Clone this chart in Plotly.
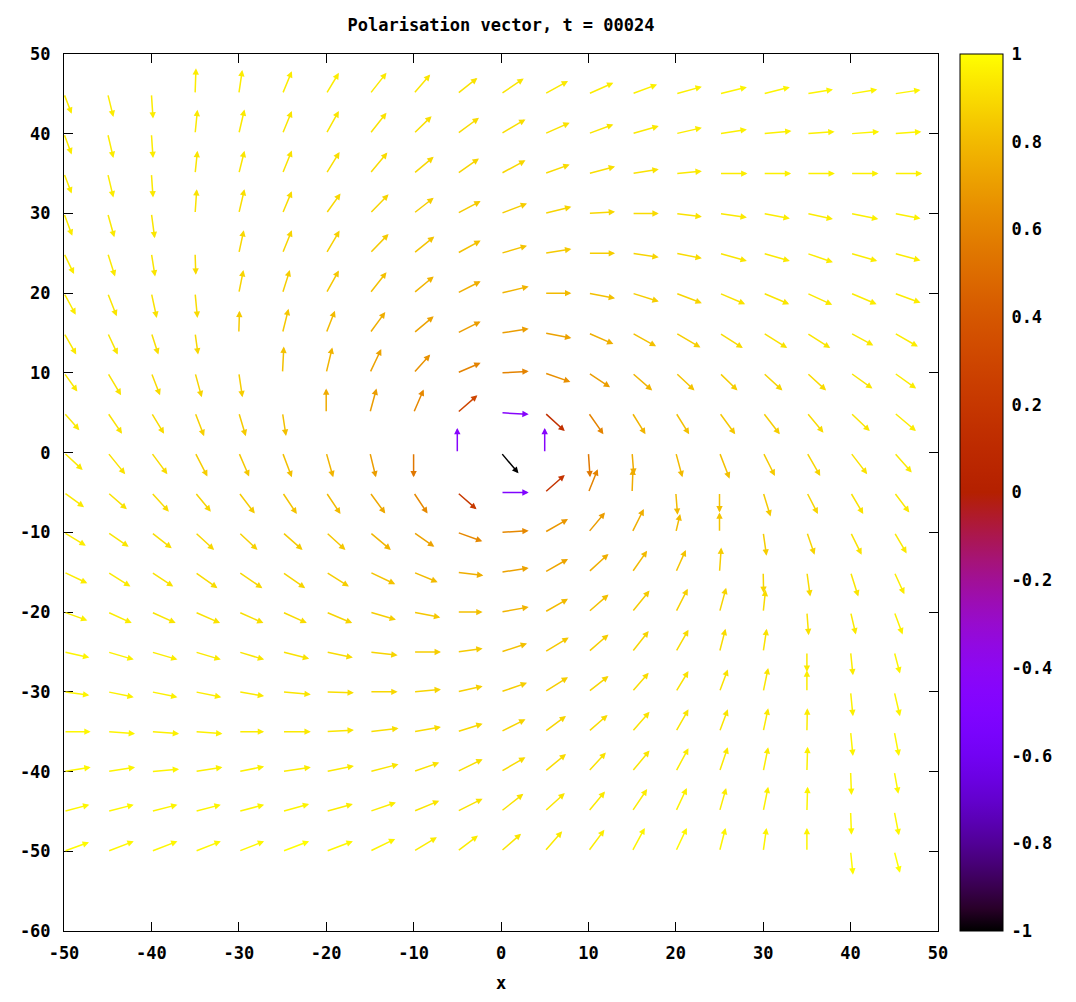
import math
import plotly.graph_objects as go

# grid (columns: x, rows: y from top to bottom)
X_VALUES = [-50, -45, -40, -35, -30, -25, -20, -15, -10, -5, 0, 5, 10, 15, 20, 25, 30, 35, 40, 45]
Y_VALUES = [45, 40, 35, 30, 25, 20, 15, 10, 5, 0, -5, -10, -15, -20, -25, -30, -35, -40, -45, -50]

# vector x-components (data units), one row per Y value
DX = [
    [0.88, 0.65, 0.19, 0.1, 0.4, 1.07, 1.45, 1.9, 1.9, 2.3, 2.6, 2.67, 2.86, 2.86, 2.98, 3.13, 3.05, 2.98, 3.05, 3.0],
    [0.88, 0.65, 0.19, 0.27, 0.65, 1.07, 1.45, 1.9, 2.06, 2.48, 2.8, 2.86, 2.86, 3.05, 2.98, 3.13, 3.24, 3.17, 3.28, 3.1],
    [0.88, 0.65, 0.19, 0.27, 0.65, 1.07, 1.53, 2.0, 2.3, 2.48, 2.8, 2.86, 3.05, 3.05, 2.98, 3.2, 3.2, 3.2, 3.2, 3.2],
    [0.95, 0.76, 0.38, 0.19, 0.65, 1.07, 1.64, 2.14, 2.3, 2.67, 2.98, 3.05, 3.05, 3.05, 2.98, 3.13, 3.05, 2.98, 3.17, 3.0],
    [1.15, 0.84, 0.42, 0.08, 0.57, 1.07, 1.53, 2.14, 2.37, 2.67, 2.98, 3.05, 3.05, 3.05, 2.98, 3.13, 3.05, 2.98, 3.05, 3.0],
    [1.34, 1.03, 0.61, 0.27, 0.53, 0.84, 1.45, 1.9, 2.3, 2.67, 3.17, 3.05, 3.05, 3.05, 2.98, 2.94, 2.98, 2.9, 2.98, 3.0],
    [1.4, 1.15, 0.8, 0.34, 0.08, 0.69, 1.0, 1.76, 2.3, 2.67, 3.17, 3.05, 2.86, 2.75, 2.82, 2.67, 2.75, 2.67, 2.6, 2.7],
    [1.53, 1.53, 0.99, 0.76, 0.42, 0.15, 0.7, 1.3, 1.9, 2.67, 3.17, 2.94, 2.48, 2.3, 2.14, 2.06, 2.2, 2.2, 2.5, 2.5],
    [1.76, 1.64, 1.45, 1.03, 0.8, 0.4, 0.0, 0.76, 1.15, 2.3, 3.17, 2.3, 1.72, 1.53, 1.53, 1.8, 1.9, 1.9, 2.2, 2.48],
    [2.14, 2.0, 1.83, 1.41, 1.18, 1.07, 0.8, 0.69, 0.0, 0.0, 2.0, 0.0, 0.19, 0.2, 0.76, 1.15, 1.34, 1.53, 1.9, 2.0],
    [2.3, 2.2, 2.0, 1.8, 1.83, 1.64, 1.64, 1.76, 1.6, 2.2, 3.17, 2.3, 1.07, 0.1, 0.2, 0.0, 0.84, 1.26, 1.45, 1.72],
    [2.5, 2.4, 2.33, 2.18, 2.14, 2.3, 2.2, 2.4, 2.37, 2.86, 3.17, 2.67, 1.9, 1.34, 0.5, 0.0, 0.38, 0.88, 1.26, 1.41],
    [2.67, 2.6, 2.5, 2.56, 2.7, 2.6, 2.6, 2.9, 2.75, 2.98, 3.17, 2.67, 2.3, 1.72, 1.15, 0.2, 0.05, 0.38, 0.88, 1.15],
    [2.67, 2.75, 2.78, 2.86, 2.82, 2.78, 2.98, 2.98, 3.05, 2.9, 3.17, 2.67, 2.3, 2.0, 1.37, 0.76, 0.27, 0.2, 0.6, 0.95],
    [2.9, 2.98, 2.98, 2.94, 2.9, 3.05, 3.05, 3.17, 3.13, 2.9, 2.98, 2.75, 2.3, 1.9, 1.45, 0.69, 0.4, 0.0, 0.27, 0.65],
    [2.9, 2.98, 2.98, 3.0, 2.9, 3.24, 3.17, 3.17, 3.13, 2.9, 2.98, 2.67, 2.3, 1.9, 1.45, 0.95, 0.57, 0.0, 0.27, 0.65],
    [3.05, 3.13, 3.17, 3.13, 2.9, 3.24, 3.17, 3.28, 3.13, 2.9, 2.8, 2.44, 2.2, 2.0, 1.45, 0.95, 0.57, 0.05, 0.27, 0.53],
    [3.05, 3.13, 3.17, 3.13, 2.9, 3.24, 3.17, 3.28, 2.94, 2.9, 2.8, 2.44, 2.0, 2.0, 1.45, 0.95, 0.57, 0.08, 0.1, 0.46],
    [2.9, 2.98, 2.98, 2.94, 2.9, 3.05, 3.05, 2.98, 2.94, 2.9, 2.56, 2.3, 1.9, 1.72, 1.26, 0.76, 0.57, 0.08, 0.1, 0.53],
    [2.86, 2.98, 2.98, 2.94, 2.9, 3.05, 3.05, 2.9, 2.67, 2.37, 2.3, 2.0, 1.83, 1.45, 1.26, 0.69, 0.38, 0.0, 0.27, 0.65],
]

# vector y-components (data units)
DY = [
    [-2.5, -2.9, -3.1, 3.2, 3.0, 2.85, 2.64, 2.64, 2.43, 2.0, 1.92, 1.6, 1.38, 1.17, 0.9, 0.84, 0.84, 0.54, 0.54, 0.5],
    [-2.6, -3.05, -3.05, 3.0, 3.05, 2.85, 2.85, 2.64, 2.2, 2.0, 1.8, 1.38, 1.17, 0.96, 0.75, 0.54, 0.33, 0.25, 0.25, 0.25],
    [-2.5, -3.0, -3.0, 2.85, 2.85, 2.9, 2.7, 2.64, 2.1, 1.9, 1.67, 1.13, 0.88, 0.54, 0.3, 0.0, 0.0, 0.0, 0.0, 0.0],
    [-2.8, -3.0, -3.1, 3.05, 3.05, 2.8, 2.5, 2.4, 1.97, 1.55, 1.25, 0.84, 0.2, 0.0, -0.42, -0.5, -0.63, -0.71, -0.71, -0.63],
    [-2.6, -2.9, -2.9, -2.7, 2.9, 2.9, 2.85, 2.43, 2.1, 1.6, 0.96, 0.54, 0.0, -0.5, -0.63, -0.96, -0.96, -1.13, -0.96, -0.9],
    [-2.7, -2.9, -3.1, -3.1, 2.9, 2.9, 2.85, 2.64, 2.1, 1.5, 0.84, 0.0, -0.63, -1.05, -1.25, -1.38, -1.38, -1.46, -1.38, -1.2],
    [-2.7, -2.7, -2.7, -2.7, 2.8, 3.05, 2.8, 2.64, 2.1, 1.46, 0.54, -0.63, -1.38, -1.67, -1.8, -1.88, -1.88, -1.88, -1.55, -1.7],
    [-2.34, -2.8, -2.8, -3.05, -3.05, 3.3, 3.2, 3.0, 2.3, 1.26, 0.2, -1.13, -1.8, -2.2, -2.2, -2.2, -2.2, -2.2, -1.97, -1.97],
    [-2.18, -2.64, -2.64, -2.93, -2.93, -2.9, 3.05, 3.05, 2.93, 2.2, -0.2, -2.3, -2.7, -2.7, -2.7, -2.7, -2.7, -2.5, -2.3, -2.3],
    [-2.18, -2.7, -2.7, -3.0, -3.0, -3.1, -3.1, -3.1, -3.1, 3.1, -2.6, 3.1, -3.1, -2.8, -3.1, -3.26, -2.93, -2.93, -2.7, -2.5],
    [-1.84, -2.1, -2.4, -2.4, -2.64, -2.7, -2.7, -2.64, -2.64, -2.1, 0.0, 2.2, 2.93, 3.0, -2.8, -2.5, -3.0, -2.7, -2.7, -2.5],
    [-1.67, -1.8, -2.0, -2.2, -2.2, -2.2, -2.2, -2.2, -1.8, -1.13, 0.2, 1.67, 2.5, 2.93, 2.3, 2.5, -2.93, -2.8, -2.8, -2.64],
    [-1.38, -1.8, -1.8, -2.0, -2.0, -2.0, -1.8, -1.5, -1.25, -0.42, 0.54, 1.67, 2.3, 2.7, 2.8, 3.1, -2.6, -3.05, -3.05, -2.76],
    [-1.05, -1.38, -1.38, -1.38, -1.38, -1.38, -1.38, -0.96, -0.67, 0.0, 0.63, 1.67, 2.2, 2.7, 2.93, 3.05, 2.8, -2.9, -2.8, -2.8],
    [-0.71, -0.96, -0.96, -0.96, -0.96, -0.84, -0.71, -0.42, 0.0, 0.42, 1.05, 1.8, 2.2, 2.64, 2.8, 2.9, 2.9, -2.5, -2.93, -2.7],
    [-0.42, -0.67, -0.67, -0.67, -0.54, -0.33, -0.13, 0.0, 0.3, 0.71, 1.13, 1.84, 1.97, 2.4, 2.6, 2.8, 3.0, 2.7, -3.05, -3.05],
    [0.0, -0.25, -0.25, -0.25, 0.0, 0.0, 0.2, 0.42, 0.58, 1.0, 1.55, 1.97, 2.1, 2.5, 2.8, 2.8, 2.93, 2.93, -3.05, -3.05],
    [0.54, 0.54, 0.3, 0.54, 0.63, 0.54, 0.71, 0.92, 1.13, 1.55, 1.8, 2.2, 2.4, 2.64, 2.93, 3.05, 3.05, 3.1, -2.93, -2.8],
    [0.84, 0.84, 0.84, 0.84, 0.84, 0.92, 0.92, 1.13, 1.34, 1.6, 2.2, 2.3, 2.5, 2.8, 2.93, 2.93, 3.1, 3.1, -2.93, -3.0],
    [1.13, 1.26, 1.26, 1.26, 1.26, 1.26, 1.26, 1.55, 1.76, 1.97, 2.2, 2.5, 2.7, 2.93, 2.93, 2.93, 2.93, 2.93, -2.93, -2.7],
]

# colour value of each vector (-1 .. 1)
C = [
    [0.95, 0.95, 0.95, 0.95, 0.95, 0.95, 0.95, 0.94, 0.93, 0.92, 0.93, 0.94, 0.95, 0.96, 0.96, 0.97, 0.97, 0.97, 0.97, 0.97],
    [0.95, 0.95, 0.95, 0.94, 0.94, 0.93, 0.93, 0.92, 0.91, 0.9, 0.91, 0.92, 0.93, 0.94, 0.95, 0.96, 0.96, 0.96, 0.97, 0.97],
    [0.95, 0.95, 0.94, 0.93, 0.93, 0.92, 0.91, 0.9, 0.89, 0.88, 0.89, 0.9, 0.91, 0.92, 0.94, 0.95, 0.96, 0.96, 0.96, 0.96],
    [0.95, 0.94, 0.93, 0.92, 0.91, 0.9, 0.89, 0.88, 0.86, 0.85, 0.86, 0.88, 0.89, 0.9, 0.92, 0.94, 0.95, 0.95, 0.96, 0.96],
    [0.95, 0.94, 0.93, 0.9, 0.89, 0.88, 0.87, 0.85, 0.83, 0.82, 0.83, 0.85, 0.86, 0.88, 0.9, 0.93, 0.94, 0.95, 0.95, 0.95],
    [0.95, 0.93, 0.92, 0.9, 0.88, 0.86, 0.84, 0.82, 0.78, 0.76, 0.78, 0.8, 0.82, 0.86, 0.88, 0.92, 0.93, 0.94, 0.95, 0.95],
    [0.94, 0.93, 0.91, 0.89, 0.85, 0.84, 0.8, 0.76, 0.72, 0.7, 0.7, 0.72, 0.76, 0.82, 0.86, 0.9, 0.92, 0.93, 0.94, 0.95],
    [0.94, 0.92, 0.9, 0.88, 0.86, 0.82, 0.78, 0.72, 0.66, 0.6, 0.6, 0.65, 0.7, 0.78, 0.83, 0.86, 0.88, 0.9, 0.93, 0.95],
    [0.94, 0.92, 0.9, 0.87, 0.85, 0.82, 0.75, 0.7, 0.62, 0.3, -0.45, 0.15, 0.6, 0.78, 0.82, 0.84, 0.86, 0.9, 0.93, 0.95],
    [0.94, 0.92, 0.9, 0.86, 0.84, 0.82, 0.78, 0.7, 0.55, -0.45, -1.0, -0.45, 0.55, 0.75, 0.8, 0.82, 0.85, 0.88, 0.92, 0.94],
    [0.94, 0.92, 0.9, 0.88, 0.85, 0.83, 0.8, 0.74, 0.62, 0.22, -0.5, 0.18, 0.6, 0.75, 0.8, 0.82, 0.85, 0.88, 0.92, 0.94],
    [0.95, 0.93, 0.91, 0.89, 0.87, 0.85, 0.84, 0.78, 0.72, 0.62, 0.62, 0.68, 0.7, 0.76, 0.8, 0.83, 0.86, 0.88, 0.92, 0.94],
    [0.95, 0.94, 0.92, 0.9, 0.89, 0.88, 0.86, 0.83, 0.8, 0.76, 0.72, 0.73, 0.76, 0.8, 0.83, 0.86, 0.88, 0.9, 0.93, 0.95],
    [0.96, 0.95, 0.93, 0.92, 0.91, 0.9, 0.88, 0.86, 0.84, 0.82, 0.78, 0.8, 0.82, 0.85, 0.87, 0.88, 0.9, 0.92, 0.94, 0.96],
    [0.97, 0.96, 0.95, 0.94, 0.93, 0.92, 0.9, 0.88, 0.86, 0.85, 0.82, 0.84, 0.86, 0.88, 0.9, 0.9, 0.92, 0.94, 0.95, 0.97],
    [0.97, 0.96, 0.96, 0.95, 0.94, 0.93, 0.91, 0.89, 0.88, 0.87, 0.86, 0.86, 0.88, 0.9, 0.92, 0.92, 0.93, 0.95, 0.96, 0.97],
    [0.98, 0.97, 0.96, 0.96, 0.95, 0.94, 0.93, 0.91, 0.9, 0.89, 0.88, 0.88, 0.9, 0.92, 0.93, 0.93, 0.94, 0.95, 0.97, 0.98],
    [0.98, 0.97, 0.97, 0.96, 0.96, 0.95, 0.94, 0.93, 0.92, 0.91, 0.9, 0.9, 0.92, 0.93, 0.95, 0.94, 0.95, 0.96, 0.97, 0.98],
    [0.98, 0.98, 0.97, 0.97, 0.97, 0.97, 0.95, 0.95, 0.93, 0.92, 0.92, 0.93, 0.94, 0.95, 0.96, 0.95, 0.96, 0.97, 0.98, 0.98],
    [0.99, 0.98, 0.98, 0.98, 0.98, 1.0, 0.98, 0.97, 0.95, 0.95, 0.93, 0.94, 0.95, 0.97, 0.98, 0.97, 0.97, 0.97, 0.99, 1.0],
]

X_TICKS = [-50, -40, -30, -20, -10, 0, 10, 20, 30, 40, 50]
Y_TICKS = [-60, -50, -40, -30, -20, -10, 0, 10, 20, 30, 40, 50]
CB_TICKS = [-1, -0.8, -0.6, -0.4, -0.2, 0, 0.2, 0.4, 0.6, 0.8, 1]
TITLE = "Polarisation vector, t = 00024"


def palette(v):
    # gnuplot rgbformulae 7,5,15
    g = min(max((v + 1) / 2, 0.0), 1.0)
    r = math.sqrt(g)
    gg = g ** 3
    b = max(0.0, math.sin(2 * math.pi * g))
    return "rgb(%d,%d,%d)" % (round(255 * r), round(255 * gg), round(255 * b))


colorscale = [[i / 40, palette(-1 + 2 * i / 40)] for i in range(41)]

FONT = dict(family="DejaVu Sans Mono", size=17, color="black", weight="bold")

# page has an 8px body margin, so the figure is 8px smaller than the window
W, H = 1068, 994
ML, MR, MT, MB = 56, 138, 46, 71

fig = go.Figure()

xs, ys, cs = [], [], []
annotations = []
for j, yv in enumerate(Y_VALUES):
    for i, xv in enumerate(X_VALUES):
        dx, dy, cv = DX[j][i], DY[j][i], C[j][i]
        xs.append(xv)
        ys.append(yv)
        cs.append(cv)
        annotations.append(dict(
            x=xv + dx, y=yv + dy, ax=xv, ay=yv,
            xref="x", yref="y", axref="x", ayref="y",
            text="", showarrow=True, arrowhead=2, arrowsize=0.85,
            arrowwidth=1.5, arrowcolor=palette(cv), standoff=0, startstandoff=0,
        ))

fig.add_trace(go.Scatter(
    x=xs, y=ys, mode="markers",
    marker=dict(size=2, opacity=0, color=cs, cmin=-1, cmax=1, colorscale=colorscale,
                showscale=True,
                colorbar=dict(
                    x=(960 - 64) / 874, xanchor="left", xref="paper",
                    y=0.5, yanchor="middle", len=1, lenmode="fraction",
                    thickness=43, thicknessmode="pixels",
                    outlinecolor="black", outlinewidth=1,
                    tickvals=CB_TICKS, ticktext=["%g" % t for t in CB_TICKS],
                    ticks="outside", ticklen=5, tickcolor="rgba(0,0,0,0)",
                    tickfont=FONT, ypad=0, xpad=0,
                )),
    hoverinfo="skip", showlegend=False,
))

axis_common = dict(
    showgrid=False, zeroline=False, showline=True, linecolor="black", linewidth=1,
    mirror="ticks", ticks="inside", ticklen=9, tickcolor="black", tickwidth=1,
    tickfont=FONT,
)

fig.update_layout(
    width=W, height=H,
    margin=dict(l=ML, r=MR, t=MT, b=MB, autoexpand=False),
    paper_bgcolor="white", plot_bgcolor="white",
    title=dict(text=TITLE, x=493 / W, xanchor="center", y=1 - 17 / H, yanchor="middle",
               font=FONT),
    xaxis=dict(range=[-50, 50], tickvals=X_TICKS, ticktext=[str(t) for t in X_TICKS],
               ticklabelstandoff=7,
               title=dict(text="x", font=FONT, standoff=14), **axis_common),
    yaxis=dict(range=[-60, 50], tickvals=Y_TICKS, ticktext=[str(t) for t in Y_TICKS],
               ticklabelstandoff=9, **axis_common),
    annotations=annotations,
    showlegend=False,
)

fig.write_html("out.html")
